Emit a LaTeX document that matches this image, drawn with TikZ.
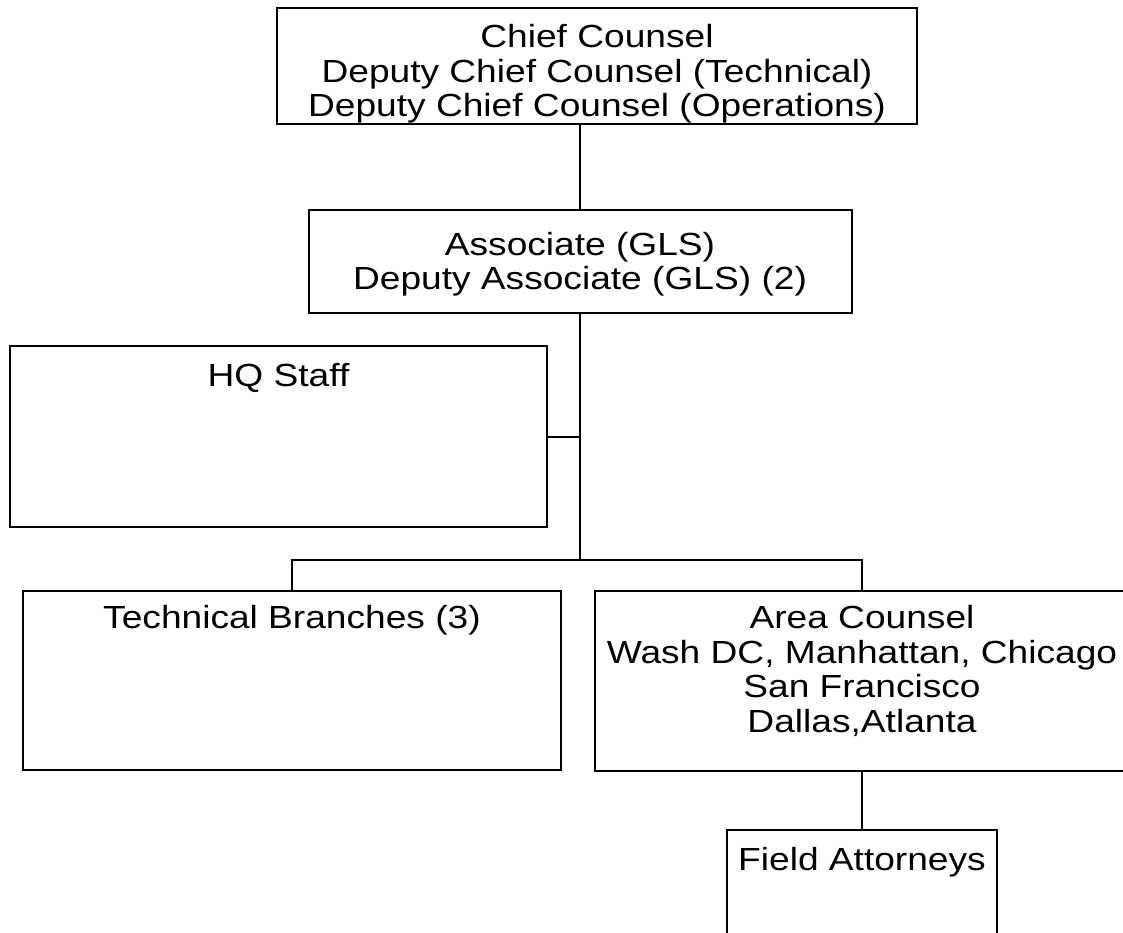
\documentclass[tikz,border=0pt]{standalone}
\usepackage{fontspec}
\setmainfont[FakeStretch=1.16]{Liberation Sans}
\begin{document}
\begin{tikzpicture}[x=1pt,y=-1pt,
  box/.style={draw=black, line width=2pt, inner sep=0pt, outer sep=0pt},
  txt/.style={anchor=north, inner sep=0pt, align=center, font=\fontsize{32}{34.5}\selectfont},
  connthin/.style={line width=1.2pt},
  connthick/.style={line width=2pt}]
\useasboundingbox (0,0) rectangle (1123,932);
\clip (0,0) rectangle (1123,932);
\node[box, minimum width=640pt, minimum height=116pt] (top) at (597,66) {};
\node[box, minimum width=543pt, minimum height=103pt] (assoc) at (580,261.5) {};
\node[box, minimum width=537pt, minimum height=181pt] (hq) at (278.5,436.5) {};
\node[box, minimum width=538pt, minimum height=179pt] (tech) at (292,680.5) {};
\node[box, minimum width=534pt, minimum height=180pt] (area) at (862,681) {};
\node[box, minimum width=270pt, minimum height=130pt] (field) at (862,895) {};
\coordinate (bus) at (580,560);

\node[txt] (toptxt) at ([yshift=-16.3pt]top.north) {Chief Counsel\\Deputy Chief Counsel (Technical)\\Deputy Chief Counsel (Operations)};
\node[txt] (assoctxt) at ([yshift=-21.8pt]assoc.north) {Associate (GLS)\\Deputy Associate (GLS) (2)};
\node[txt] (hqtxt) at ([yshift=-17.3pt]hq.north) {HQ Staff};
\node[txt] (techtxt) at ([yshift=-14.3pt]tech.north) {Technical Branches (3)};
\node[txt] (areatxt) at ([yshift=-14.3pt]area.north) {Area Counsel\\Wash DC, Manhattan, Chicago\\San Francisco\\Dallas,Atlanta};
\node[txt] (fieldtxt) at ([yshift=-17.3pt]field.north) {Field Attorneys};

\draw[connthin] (top.south -| assoc.north) -- (assoc.north);
\draw[connthick] (assoc.south) -- (bus);
\draw[connthick] (hq.east) -- (hq.east -| assoc.south);
\draw[connthick] (tech.north) -- (tech.north |- bus) -- (area.north |- bus) -- (area.north);
\draw[connthin] (area.south) -- (field.north);
\end{tikzpicture}
\end{document}
